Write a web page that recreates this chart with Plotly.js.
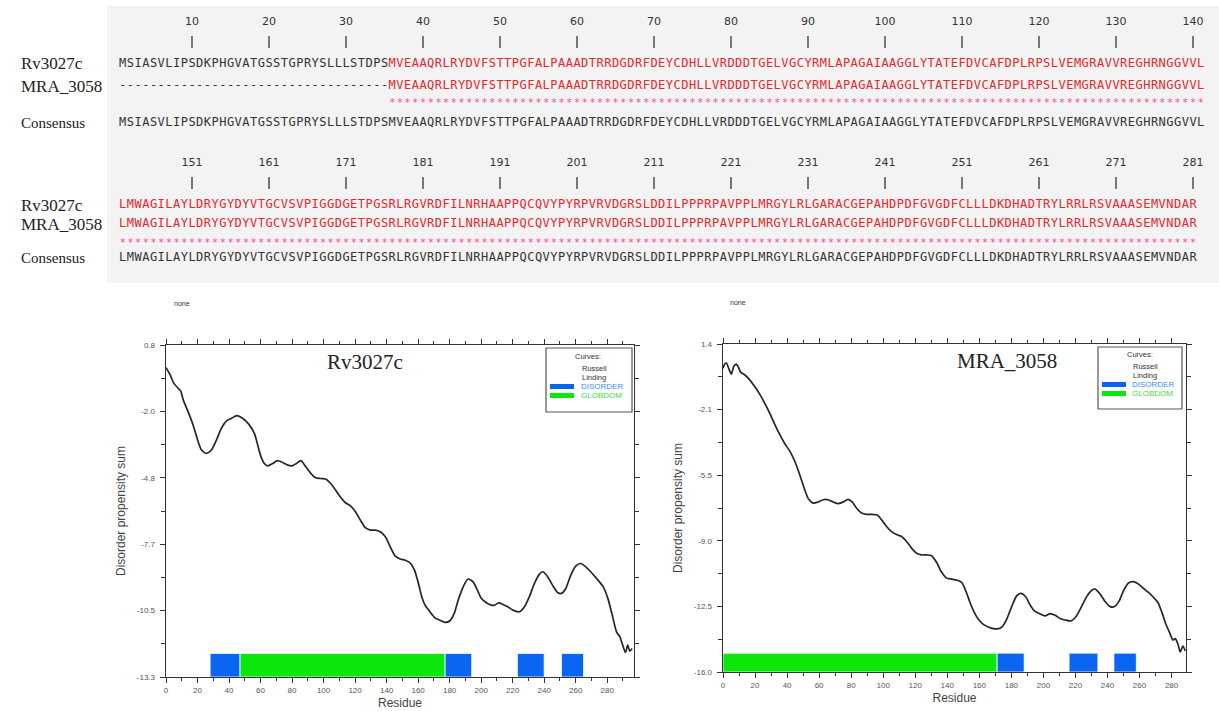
<!DOCTYPE html>
<html><head><meta charset="utf-8">
<script src="https://cdn.plot.ly/plotly-3.0.1.min.js"></script>
<style>html,body{margin:0;padding:0;background:#fff}#chart{width:1219px;height:711px}</style>
</head><body><div id="chart"></div>
<script>
// ---------------- alignment data ----------------
const rvBlock1   = "MSIASVLIPSDKPHGVATGSSTGPRYSLLLSTDPSMVEAAQRLRYDVFSTTPGFALPAAADTRRDGDRFDEYCDHLLVRDDDTGELVGCYRMLAPAGAIAAGGLYTATEFDVCAFDPLRPSLVEMGRAVVREGHRNGGVVL";
const mraBlock1  = "-----------------------------------MVEAAQRLRYDVFSTTPGFALPAAADTRRDGDRFDEYCDHLLVRDDDTGELVGCYRMLAPAGAIAAGGLYTATEFDVCAFDPLRPSLVEMGRAVVREGHRNGGVVL";
const starBlock1 = "                                   **********************************************************************************************************";
const consBlock1 = "MSIASVLIPSDKPHGVATGSSTGPRYSLLLSTDPSMVEAAQRLRYDVFSTTPGFALPAAADTRRDGDRFDEYCDHLLVRDDDTGELVGCYRMLAPAGAIAAGGLYTATEFDVCAFDPLRPSLVEMGRAVVREGHRNGGVVL";
const rvBlock2   = "LMWAGILAYLDRYGYDYVTGCVSVPIGGDGETPGSRLRGVRDFILNRHAAPPQCQVYPYRPVRVDGRSLDDILPPPRPAVPPLMRGYLRLGARACGEPAHDPDFGVGDFCLLLDKDHADTRYLRRLRSVAAASEMVNDAR";
const mraBlock2  = "LMWAGILAYLDRYGYDYVTGCVSVPIGGDGETPGSRLRGVRDFILNRHAAPPQCQVYPYRPVRVDGRSLDDILPPPRPAVPPLMRGYLRLGARACGEPAHDPDFGVGDFCLLLDKDHADTRYLRRLRSVAAASEMVNDAR";
const starBlock2 = "********************************************************************************************************************************************";
const consBlock2 = "LMWAGILAYLDRYGYDYVTGCVSVPIGGDGETPGSRLRGVRDFILNRHAAPPQCQVYPYRPVRVDGRSLDDILPPPRPAVPPLMRGYLRLGARACGEPAHDPDFGVGDFCLLLDKDHADTRYLRRLRSVAAASEMVNDAR";
const unalignedRv1 = 35;  // residues of Rv3027c before the aligned region in block 1
const rulerPos = [10,20,30,40,50,60,70,80,90,100,110,120,130,140];
const rulerLabels1 = ["10","20","30","40","50","60","70","80","90","100","110","120","130","140"];
const rulerLabels2 = ["151","161","171","181","191","201","211","221","231","241","251","261","271","281"];

// ---------------- disorder curves ----------------
const rvX = [0,2.5,5,7.8,9.3,11,14,17.2,20.4,22.5,25.6,28.8,32,35.1,38.3,41.4,45,48.8,52.6,56.1,58.2,60.3,62.4,64.5,67.7,70.8,74,77.2,79.9,82.8,85.6,88.7,91.9,95,98.2,101.3,104.5,107.6,110.8,113.9,117.1,120.2,123.4,126.5,129.7,132.9,136,139.2,142.3,145.5,148.6,151.8,154.9,157.7,160.2,162.3,164.4,167.5,170.7,173.8,177,180.2,182.9,185.4,188.6,191.7,194.9,197.6,200.1,203.3,206.4,208.5,211.1,213.8,216.9,220.1,224.3,227.5,230.6,233.8,236.9,239,242.2,245.3,248.5,251,253.7,256.9,260,263.2,266.4,269.5,273.3,277.5,280.4,283.2,285.9,288,289.5,291.6,293,294.3,295.8];
const rvY = [-0.16,-0.45,-0.83,-1.04,-1.15,-1.54,-2.03,-2.6,-3.31,-3.66,-3.8,-3.66,-3.24,-2.74,-2.43,-2.32,-2.2,-2.32,-2.57,-2.95,-3.45,-3.95,-4.23,-4.33,-4.23,-4.11,-4.19,-4.3,-4.33,-4.23,-4.11,-4.37,-4.65,-4.84,-4.87,-4.89,-5.08,-5.36,-5.67,-5.9,-6.03,-6.28,-6.64,-6.96,-7.06,-7.06,-7.13,-7.34,-7.77,-8.17,-8.29,-8.34,-8.45,-8.76,-9.33,-9.89,-10.25,-10.53,-10.79,-10.89,-10.98,-10.91,-10.6,-10.04,-9.47,-9.14,-9.26,-9.61,-9.96,-10.15,-10.25,-10.25,-10.15,-10.22,-10.32,-10.46,-10.53,-10.32,-9.89,-9.33,-8.94,-8.83,-9.04,-9.4,-9.71,-9.75,-9.54,-8.97,-8.59,-8.48,-8.62,-8.83,-9.12,-9.47,-9.96,-10.67,-11.38,-11.59,-11.88,-12.26,-11.95,-12.2,-12.09];
const mraX = [0,1,2.1,3.5,5.2,6.7,8.3,9.4,11,13.5,16.7,19.8,22.9,26,29.2,32.3,35.4,38.5,41.7,44.8,47.3,49.4,51.5,53.5,56.3,59.4,62.5,65.6,68.8,71.9,75,78.1,80.6,83.3,86.5,89.6,92.7,96.5,99,102.1,105.2,108.3,111.5,114.6,117.7,120.8,124,127.1,130.2,133.3,136.5,139.6,142.7,145.8,149,151.5,154.2,156.9,159.4,162.5,165.6,168.8,171.9,174.4,177.1,180.2,183.3,186,188.9,191.7,194.4,197.3,201,204.2,207.3,210.4,213.5,217.3,220.2,223.5,227.1,230.2,232.3,235.4,238.5,241.7,244.4,247.3,250,253.1,256.3,259.4,262.5,265.6,268.8,271.5,274,276.5,279.2,280.8,282.3,284,285.4,287.1,288.5];
const mraY = [0.12,0.33,0.39,0.12,-0.2,0.21,0.33,0.21,-0.09,-0.23,-0.5,-0.86,-1.26,-1.74,-2.28,-2.86,-3.4,-3.88,-4.28,-4.82,-5.39,-5.92,-6.45,-6.84,-7.04,-6.98,-6.86,-6.86,-6.98,-7.07,-6.98,-6.84,-6.98,-7.3,-7.57,-7.64,-7.64,-7.69,-7.93,-8.28,-8.55,-8.71,-8.81,-9.08,-9.43,-9.7,-9.79,-9.79,-9.83,-10.18,-10.71,-11.02,-11.07,-11.12,-11.25,-11.69,-12.31,-12.85,-13.2,-13.47,-13.61,-13.7,-13.7,-13.59,-13.2,-12.53,-11.96,-11.83,-12.01,-12.45,-12.76,-12.9,-13.02,-12.9,-12.99,-13.16,-13.24,-13.29,-13.08,-12.58,-11.99,-11.66,-11.6,-11.87,-12.26,-12.53,-12.53,-12.23,-11.69,-11.28,-11.21,-11.34,-11.57,-11.78,-12.05,-12.31,-12.85,-13.47,-14,-14.3,-14.23,-14.53,-14.94,-14.62,-14.89];

// regions (start, end residue)
const rvDisorderStart = [28,177,223,251];
const rvDisorderEnd   = [47,194,240,265];
const rvGlobStart = [47];
const rvGlobEnd   = [177];
const mraDisorderStart = [171,216,244];
const mraDisorderEnd   = [188,234,258];
const mraGlobStart = [0];
const mraGlobEnd   = [171];
const regionHeight = 1.0;

// axis ticks
const rvYTickVals = [0.8,-2.02,-4.84,-7.66,-10.48,-13.3];
const rvYTickText = ["0.8","-2.0","-4.8","-7.7","-10.5","-13.3"];
const rvYMinor = [-0.61,-3.43,-6.25,-9.07,-11.89];
const mraYTickVals = [1.4,-2.08,-5.56,-9.04,-12.52,-16.0];
const mraYTickText = ["1.4","-2.1","-5.5","-9.0","-12.5","-16.0"];
const mraYMinor = [-0.34,-3.82,-7.30,-10.78,-14.26];

// ---------------- layout helpers ----------------
const W = 1219, H = 711;
const PX = x => x / W;
const PY = y => 1 - y / H;
const RED = "#e8262c", DARK = "#333333", PINK = "#ff3fa0";
const BLUE = "#0a66f0", GREEN = "#0be60b";
const seqFont = "DejaVu Sans Mono";

const rows1 = {label:22, t0:36, t1:48, rv:64, mra:86, star:103, cons:123};
const rows2 = {label:163, t0:177, t1:189, rv:205, mra:224, star:243, cons:258};

function seqTrace(str, y, colorFn, size) {
  const xs = [], ys = [], tx = [], cs = [];
  for (let i = 0; i < str.length; i++) {
    const ch = str[i];
    if (ch === " ") continue;
    xs.push(i + 1); ys.push(y); tx.push(ch); cs.push(colorFn(i, ch));
  }
  return {type:"scatter", mode:"text", x:xs, y:ys, text:tx, xaxis:"x3", yaxis:"y3",
    textposition:"middle center", textfont:{family:seqFont, size:size||12, color:cs},
    hoverinfo:"skip", showlegend:false, cliponaxis:false};
}
function rulerTraces(rows, labels) {
  const lx = [], ly = [];
  rulerPos.forEach(p => { lx.push(p, p, null); ly.push(rows.t0, rows.t1, null); });
  return [
    {type:"scatter", mode:"lines", x:lx, y:ly, xaxis:"x3", yaxis:"y3",
     line:{color:DARK, width:1.3}, hoverinfo:"skip", showlegend:false},
    {type:"scatter", mode:"text", x:rulerPos, y:rulerPos.map(() => rows.label), text:labels,
     xaxis:"x3", yaxis:"y3", textfont:{family:"DejaVu Sans", size:11, color:DARK},
     hoverinfo:"skip", showlegend:false, cliponaxis:false}
  ];
}
function regionBars(starts, ends, base, color, xa, ya) {
  return {type:"bar", x:starts.map((s, i) => (s + ends[i]) / 2), width:starts.map((s, i) => ends[i] - s),
    y:starts.map(() => regionHeight), base:starts.map(() => base), xaxis:xa, yaxis:ya,
    marker:{color:color, line:{color:"#ffffff", width:0.8}}, hoverinfo:"skip", showlegend:false};
}

const data = [];
// block 1
data.push(...rulerTraces(rows1, rulerLabels1));
data.push(seqTrace(rvBlock1, rows1.rv, i => i < unalignedRv1 ? DARK : RED));
data.push(seqTrace(mraBlock1, rows1.mra, (i, ch) => ch === "-" ? DARK : RED));
data.push(seqTrace(starBlock1, rows1.star, () => PINK, 10));
data.push(seqTrace(consBlock1, rows1.cons, () => DARK));
// block 2
data.push(...rulerTraces(rows2, rulerLabels2));
data.push(seqTrace(rvBlock2, rows2.rv, () => RED));
data.push(seqTrace(mraBlock2, rows2.mra, () => RED));
data.push(seqTrace(starBlock2, rows2.star, () => PINK, 10));
data.push(seqTrace(consBlock2, rows2.cons, () => DARK));

// charts
data.push(regionBars(rvDisorderStart, rvDisorderEnd, -13.3, BLUE, "x", "y"));
data.push(regionBars(rvGlobStart, rvGlobEnd, -13.3, GREEN, "x", "y"));
data.push({type:"scatter", mode:"lines", x:rvX, y:rvY, xaxis:"x", yaxis:"y",
  line:{color:"#262626", width:1.7, shape:"spline", smoothing:0.7}, hoverinfo:"skip", showlegend:false});
data.push(regionBars(mraDisorderStart, mraDisorderEnd, -16.0, BLUE, "x2", "y2"));
data.push(regionBars(mraGlobStart, mraGlobEnd, -16.0, GREEN, "x2", "y2"));
data.push({type:"scatter", mode:"lines", x:mraX, y:mraY, xaxis:"x2", yaxis:"y2",
  line:{color:"#262626", width:1.7, shape:"spline", smoothing:0.7}, hoverinfo:"skip", showlegend:false});

const tickFont = {family:"Liberation Sans", size:8, color:"#555"};
const titleFont = {family:"Liberation Sans", size:12, color:"#444"};
function xAxis(domain, maxX) {
  return {domain:domain, range:[0, maxX], tickmode:"linear", tick0:0, dtick:20,
    ticks:"outside", ticklen:5, tickwidth:1, tickcolor:"#333", showline:true, linecolor:"#333",
    linewidth:1.4, mirror:"ticks", showgrid:false, zeroline:false, tickfont:tickFont,
    minor:{dtick:10, tick0:0, ticks:"outside", ticklen:3, tickcolor:"#333"},
    title:{text:"Residue", font:titleFont, standoff:4}, fixedrange:true};
}
function yAxis(domain, anchor, vals, text, minorVals) {
  return {domain:domain, anchor:anchor, range:[vals[vals.length-1], vals[0]], tickmode:"array",
    tickvals:vals, ticktext:text, ticks:"outside", ticklen:5, tickwidth:1, tickcolor:"#333",
    showline:true, linecolor:"#333", linewidth:1.4, mirror:"ticks", showgrid:false, zeroline:false,
    tickfont:tickFont, ticklabelstandoff:3,
    minor:{tickmode:"array", tickvals:minorVals, ticks:"outside", ticklen:4, tickcolor:"#333"},
    title:{text:"Disorder propensity sum", font:titleFont, standoff:8}, fixedrange:true};
}

const layout = {
  width:W, height:H, margin:{l:0, r:0, t:0, b:0}, paper_bgcolor:"#ffffff", plot_bgcolor:"rgba(0,0,0,0)",
  showlegend:false, hovermode:false, bargap:0,
  xaxis: Object.assign(xAxis([PX(166), PX(634)], 297), {anchor:"y"}),
  yaxis: yAxis([PY(677), PY(345)], "x", rvYTickVals, rvYTickText, rvYMinor),
  xaxis2: Object.assign(xAxis([PX(723), PX(1186)], 289), {anchor:"y2"}),
  yaxis2: yAxis([PY(672), PY(344)], "x2", mraYTickVals, mraYTickText, mraYMinor),
  xaxis3: {domain:[0,1], range:[1 - 122.7/7.7, 1 + (W - 122.7)/7.7], visible:false, anchor:"y3", fixedrange:true},
  yaxis3: {domain:[0,1], range:[H, 0], visible:false, anchor:"x3", fixedrange:true},
  shapes: [
    {type:"rect", xref:"paper", yref:"paper", x0:PX(107), x1:1, y0:PY(283), y1:PY(6),
     fillcolor:"#f3f3f3", line:{width:0}, layer:"below"},
    // legend left
    {type:"rect", xref:"paper", yref:"paper", x0:PX(546), x1:PX(632), y0:PY(412), y1:PY(348),
     fillcolor:"#ffffff", line:{color:"#555", width:1.2}},
    {type:"rect", xref:"paper", yref:"paper", x0:PX(550), x1:PX(574), y0:PY(389), y1:PY(384),
     fillcolor:BLUE, line:{width:0}},
    {type:"rect", xref:"paper", yref:"paper", x0:PX(550), x1:PX(574), y0:PY(398), y1:PY(393),
     fillcolor:GREEN, line:{width:0}},
    // legend right
    {type:"rect", xref:"paper", yref:"paper", x0:PX(1098), x1:PX(1182), y0:PY(409), y1:PY(347),
     fillcolor:"#ffffff", line:{color:"#555", width:1.2}},
    {type:"rect", xref:"paper", yref:"paper", x0:PX(1102), x1:PX(1126), y0:PY(387), y1:PY(382),
     fillcolor:BLUE, line:{width:0}},
    {type:"rect", xref:"paper", yref:"paper", x0:PX(1102), x1:PX(1126), y0:PY(396), y1:PY(391),
     fillcolor:GREEN, line:{width:0}}
  ],
  annotations: []
};

function ann(text, x, y, opts) {
  layout.annotations.push(Object.assign({text:text, xref:"paper", yref:"paper", x:PX(x), y:PY(y),
    xanchor:"left", yanchor:"middle", showarrow:false,
    font:{family:"Liberation Serif", size:17, color:"#222"}}, opts || {}));
}
// sequence names
ann("Rv3027c", 19, rows1.rv);
ann("MRA_3058", 19, rows1.mra);
ann("Consensus", 19, rows1.cons, {font:{family:"Liberation Serif", size:15, color:"#222"}});
ann("Rv3027c", 19, rows2.rv);
ann("MRA_3058", 19, rows2.mra);
ann("Consensus", 19, rows2.cons, {font:{family:"Liberation Serif", size:15, color:"#222"}});
// chart titles
const small = {family:"Liberation Sans", size:7, color:"#333"};
ann("none", 172, 303, {font:small});
ann("none", 728, 302, {font:small});
ann("Rv3027c", 365, 362, {xanchor:"center", font:{family:"Liberation Serif", size:21, color:"#222"}});
ann("MRA_3058", 1007, 361, {xanchor:"center", font:{family:"Liberation Serif", size:21, color:"#222"}});
// legends
const lg = {family:"Liberation Sans", size:7.5, color:"#333"};
ann("Curves:", 588, 356, {xanchor:"center", font:lg});
ann("Russell", 580, 368, {font:lg});
ann("Linding", 580, 377, {font:lg});
ann("DISORDER", 579, 386.5, {font:{family:"Liberation Sans", size:8, color:"#3d8cff"}});
ann("GLOBDOM", 579, 395.5, {font:{family:"Liberation Sans", size:8, color:"#3fe03f"}});
ann("Curves:", 1140, 354, {xanchor:"center", font:lg});
ann("Russell", 1131, 366, {font:lg});
ann("Linding", 1131, 375, {font:lg});
ann("DISORDER", 1130, 384.5, {font:{family:"Liberation Sans", size:8, color:"#3d8cff"}});
ann("GLOBDOM", 1130, 393.5, {font:{family:"Liberation Sans", size:8, color:"#3fe03f"}});

Plotly.newPlot("chart", data, layout, {staticPlot:true, displayModeBar:false});
</script></body></html>
